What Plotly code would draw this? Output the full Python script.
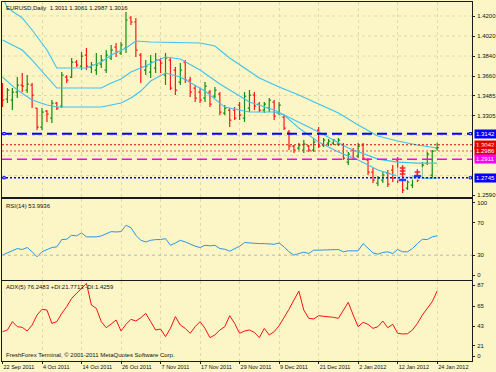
import plotly.graph_objects as go

# ---------------- data ----------------
symbol_title = "EURUSD,Daily  1.3011 1.3061 1.2987 1.3016"
rsi_title = "RSI(14) 53.9936"
adx_title = "ADX(5) 76.2483 +DI:21.7713 -DI:1.4259"
copyright_text = "FreshForex Terminal, © 2001-2011 MetaQuotes Software Corp."

date_labels = ["22 Sep 2011", "4 Oct 2011", "14 Oct 2011", "26 Oct 2011", "7 Nov 2011",
               "17 Nov 2011", "29 Nov 2011", "9 Dec 2011", "21 Dec 2011", "2 Jan 2012",
               "12 Jan 2012", "24 Jan 2012"]
date_label_bars = [0, 8, 16, 24, 32, 40, 48, 56, 64, 72, 80, 88]

bars = list(range(89))

high = [1.3597, 1.3552, 1.3552, 1.3651, 1.3687, 1.3669, 1.3597, 1.3372, 1.3372, 1.3354,
        1.3444, 1.3426, 1.3696, 1.3669, 1.3822, 1.3804, 1.3876, 1.3912, 1.3786, 1.3867,
        1.3849, 1.3894, 1.3939, 1.3957, 1.3966, 1.4236, 1.4200, 1.4182, 1.3867, 1.3804,
        1.3849, 1.3867, 1.3822, 1.3867, 1.3822, 1.3741, 1.3777, 1.3804, 1.3651, 1.3579,
        1.3552, 1.3606, 1.3534, 1.3561, 1.3516, 1.3399, 1.3372, 1.3381, 1.3426, 1.3516,
        1.3534, 1.3516, 1.3426, 1.3426, 1.3462, 1.3444, 1.3426, 1.3309, 1.3174, 1.3039,
        1.3057, 1.3084, 1.3039, 1.3102, 1.3201, 1.3102, 1.3093, 1.3093, 1.3102, 1.3057,
        1.2976, 1.3012, 1.3057, 1.3057, 1.2922, 1.2832, 1.2760, 1.2796, 1.2814, 1.2859,
        1.2931, 1.2742, 1.2724, 1.2769, 1.2796, 1.2886, 1.2976, 1.2994, 1.3061]
low = [1.3381, 1.3417, 1.3354, 1.3462, 1.3516, 1.3507, 1.3372, 1.3174, 1.3174, 1.3246,
       1.3237, 1.3354, 1.3372, 1.3597, 1.3642, 1.3741, 1.3714, 1.3714, 1.3687, 1.3669,
       1.3732, 1.3687, 1.3804, 1.3831, 1.3849, 1.3867, 1.4119, 1.3831, 1.3597, 1.3669,
       1.3642, 1.3687, 1.3687, 1.3579, 1.3534, 1.3489, 1.3579, 1.3597, 1.3471, 1.3426,
       1.3417, 1.3426, 1.3381, 1.3462, 1.3309, 1.3309, 1.3201, 1.3264, 1.3264, 1.3246,
       1.3336, 1.3354, 1.3336, 1.3327, 1.3336, 1.3264, 1.3309, 1.3174, 1.2994, 1.2967,
       1.2994, 1.2967, 1.2976, 1.2976, 1.3012, 1.3021, 1.3030, 1.3039, 1.3030, 1.2904,
       1.2859, 1.2904, 1.2922, 1.2904, 1.2769, 1.2697, 1.2670, 1.2697, 1.2661, 1.2706,
       1.2697, 1.2607, 1.2634, 1.2652, 1.2706, 1.2742, 1.2859, 1.2742, 1.2987]
open_ = [1.3552, 1.3453, 1.3444, 1.3516, 1.3579, 1.3534, 1.3579, 1.3372, 1.3201, 1.3345,
         1.3282, 1.3417, 1.3390, 1.3651, 1.3651, 1.3786, 1.3750, 1.3849, 1.3741, 1.3714,
         1.3768, 1.3714, 1.3822, 1.3921, 1.3867, 1.3912, 1.4182, 1.4146, 1.3849, 1.3714,
         1.3696, 1.3732, 1.3804, 1.3669, 1.3804, 1.3714, 1.3606, 1.3786, 1.3624, 1.3552,
         1.3516, 1.3462, 1.3516, 1.3480, 1.3498, 1.3327, 1.3354, 1.3354, 1.3399, 1.3282,
         1.3372, 1.3489, 1.3408, 1.3354, 1.3372, 1.3426, 1.3327, 1.3291, 1.3156, 1.3030,
         1.3012, 1.2994, 1.3030, 1.2994, 1.3174, 1.3039, 1.3057, 1.3057, 1.3048, 1.3039,
         1.2886, 1.2994, 1.2940, 1.3039, 1.2904, 1.2796, 1.2697, 1.2724, 1.2787, 1.2814,
         1.2904, 1.2724, 1.2652, 1.2679, 1.2778, 1.2760, 1.2877, 1.2769, 1.3011]
close = [1.3444, 1.3534, 1.3516, 1.3579, 1.3570, 1.3588, 1.3489, 1.3201, 1.3336, 1.3318,
         1.3417, 1.3372, 1.3669, 1.3624, 1.3786, 1.3759, 1.3840, 1.3750, 1.3759, 1.3759,
         1.3804, 1.3849, 1.3894, 1.3876, 1.3939, 1.4164, 1.4146, 1.3894, 1.3741, 1.3750,
         1.3786, 1.3804, 1.3777, 1.3822, 1.3552, 1.3534, 1.3714, 1.3624, 1.3516, 1.3462,
         1.3444, 1.3570, 1.3408, 1.3534, 1.3336, 1.3372, 1.3264, 1.3282, 1.3309, 1.3480,
         1.3489, 1.3390, 1.3354, 1.3408, 1.3444, 1.3300, 1.3399, 1.3192, 1.3030, 1.2994,
         1.3039, 1.3048, 1.2994, 1.3066, 1.3030, 1.3084, 1.3075, 1.3084, 1.3084, 1.2922,
         1.2958, 1.2922, 1.3030, 1.2922, 1.2796, 1.2724, 1.2742, 1.2769, 1.2688, 1.2742,
         1.2724, 1.2634, 1.2706, 1.2751, 1.2724, 1.2859, 1.2958, 1.2985, 1.3016]

band_upper_bars = [0, 1, 4, 6, 9, 11, 17, 20, 22, 25, 27, 30, 40, 43, 46, 49, 52, 56, 60,
                   64, 68, 72, 76, 80, 84, 88]
band_upper = [1.4371, 1.4272, 1.4182, 1.4074, 1.3894, 1.3732, 1.3732, 1.3786, 1.3849, 1.3912,
              1.3975, 1.3966, 1.3957, 1.3930, 1.3822, 1.3732, 1.3642, 1.3561, 1.3489,
              1.3408, 1.3327, 1.3219, 1.3120, 1.3075, 1.3039, 1.3012]
band_mid_bars = [0, 4, 6, 9, 11, 20, 22, 24, 26, 29, 31, 33, 36, 40, 44, 47, 50, 55, 59,
                 64, 70, 76, 80, 84, 88]
band_mid = [1.3984, 1.3894, 1.3804, 1.3651, 1.3552, 1.3552, 1.3597, 1.3633, 1.3696, 1.3750,
            1.3795, 1.3831, 1.3813, 1.3714, 1.3588, 1.3507, 1.3426, 1.3354, 1.3264,
            1.3156, 1.3012, 1.2913, 1.2886, 1.2877, 1.2877]
band_low_bars = [0, 3, 6, 9, 11, 20, 22, 24, 26, 28, 30, 33, 36, 41, 45, 50, 55, 57, 60,
                 64, 68, 72, 76, 80, 84, 88]
band_low = [1.3651, 1.3534, 1.3444, 1.3399, 1.3381, 1.3381, 1.3399, 1.3417, 1.3462, 1.3525,
            1.3615, 1.3687, 1.3651, 1.3525, 1.3381, 1.3336, 1.3336, 1.3309, 1.3192,
            1.3066, 1.2976, 1.2904, 1.2814, 1.2760, 1.2742, 1.2742]

levels = [1.3142, 1.3042, 1.2986, 1.2911, 1.2745]
level_labels = ["1.3142", "1.3042", "1.2986", "1.2911", "1.2745"]

# small trade-signal objects drawn on the chart (bar index, price)
signal_box_bars = [81, 84]
signal_box_prices = [1.2778, 1.2782]
signal_red_bars = [81, 81, 81, 84]
signal_red_prices = [1.2832, 1.2805, 1.2778, 1.2796]
signal_blue_bars = [81, 84]
signal_blue_prices = [1.2725, 1.2760]

price_ticks = [1.4200, 1.4020, 1.3840, 1.3660, 1.3485, 1.3305, 1.2590]
price_tick_labels = ["1.4200", "1.4020", "1.3840", "1.3660", "1.3485", "1.3305", "1.2590"]
price_grid = [1.4200, 1.4020, 1.3840, 1.3660, 1.3485, 1.3305, 1.3125, 1.2945, 1.2765]

rsi = [30.1, 32.9, 36.2, 38.2, 37.0, 39.5, 34.2, 28.0, 34.2, 37.0,
       39.5, 40.3, 49.3, 49.7, 54.6, 53.8, 57.5, 52.6, 52.6, 52.6,
       53.8, 56.6, 59.1, 58.7, 59.1, 66.9, 64.0, 54.6, 48.4, 46.4,
       48.4, 49.3, 49.3, 50.5, 42.3, 45.1, 48.4, 46.4, 43.5, 41.1,
       39.5, 42.3, 41.5, 42.3, 38.2, 37.4, 34.9, 38.2, 41.1, 45.6,
       45.1, 44.3, 44.3, 44.3, 44.3, 43.5, 45.1, 40.3, 34.2, 30.1,
       32.1, 33.7, 32.1, 36.2, 36.2, 36.2, 36.2, 37.0, 37.0, 34.2,
       35.4, 35.4, 35.4, 44.3, 38.2, 32.9, 31.3, 33.3, 34.2, 32.1,
       37.0, 34.2, 34.2, 38.2, 44.3, 49.7, 49.3, 52.6, 53.99]
rsi_ticks = ["100", "70", "30", "0"]

adx = [31.9, 33.7, 42.8, 37.3, 36.6, 32.6, 39.1, 50.0, 56.2, 55.4,
       40.9, 42.8, 51.8, 59.1, 68.1, 73.6, 79.0, 84.4, 60.9, 57.2,
       42.8, 36.2, 40.2, 44.6, 32.6, 39.9, 45.3, 43.5, 47.1, 51.8,
       42.8, 33.7, 34.8, 26.5, 35.5, 48.2, 39.1, 35.5, 30.1, 37.3,
       42.8, 35.5, 25.4, 28.3, 33.7, 37.3, 49.3, 40.9, 30.1, 32.6,
       33.7, 31.1, 25.4, 35.5, 28.3, 31.9, 38.4, 47.1, 56.2, 66.3,
       76.1, 55.4, 46.4, 45.7, 49.3, 48.6, 48.2, 47.5, 46.4, 55.4,
       63.8, 50.0, 37.3, 42.1, 39.9, 35.5, 37.3, 43.5, 36.2, 39.9,
       30.1, 29.4, 29.7, 33.7, 40.9, 50.0, 57.2, 64.5, 76.25]
adx_ticks = ["87", "65", "43", "21", "0"]

# ---------------- style ----------------
BG = "#fcf5c6"
GRID = "#e2d9a8"
FONT = "Liberation Sans"
FS = 6
W, H = 496, 372
ML, MR, MT_, MB = 2, 24, 2, 11
PW = W - ML - MR
PH = H - MT_ - MB


def py(ypix):
    return (H - MB - ypix) / PH


def px(xpix):
    return (xpix - ML) / PW


fig = go.Figure()

fig.add_trace(go.Ohlc(x=bars, open=open_, high=high, low=low, close=close,
                      increasing=dict(line=dict(color="#13900f", width=1.2)),
                      decreasing=dict(line=dict(color="#ff1a1a", width=1.2)),
                      tickwidth=0.35, xaxis="x", yaxis="y", showlegend=False,
                      hoverinfo="skip"))

for bx, by in [(band_upper_bars, band_upper), (band_mid_bars, band_mid), (band_low_bars, band_low)]:
    fig.add_trace(go.Scatter(x=bx, y=by, mode="lines", line=dict(color="#3cc3f2", width=1.1),
                             xaxis="x", yaxis="y", showlegend=False, hoverinfo="skip"))

# signal objects
fig.add_trace(go.Scatter(x=signal_box_bars, y=signal_box_prices, mode="markers",
                         marker=dict(symbol="square", size=13, color="rgba(255,255,255,0.55)",
                                     line=dict(width=0)),
                         xaxis="x", yaxis="y", showlegend=False, hoverinfo="skip"))
fig.add_trace(go.Scatter(x=signal_red_bars, y=signal_red_prices, mode="markers",
                         marker=dict(symbol="cross-thin", size=4, line=dict(color="#ff2020", width=1.5)),
                         xaxis="x", yaxis="y", showlegend=False, hoverinfo="skip"))
fig.add_trace(go.Scatter(x=signal_blue_bars, y=signal_blue_prices, mode="markers",
                         marker=dict(symbol="line-ew", size=5, line=dict(color="#2040ff", width=2.5)),
                         xaxis="x", yaxis="y", showlegend=False, hoverinfo="skip"))

fig.add_trace(go.Scatter(x=bars, y=rsi, mode="lines", line=dict(color="#2b95e8", width=1),
                         xaxis="x2", yaxis="y2", showlegend=False, hoverinfo="skip"))
fig.add_trace(go.Scatter(x=bars, y=adx, mode="lines", line=dict(color="#ff1010", width=1),
                         xaxis="x3", yaxis="y3", showlegend=False, hoverinfo="skip"))

xr = [-0.1, 95.05]
xcommon = dict(range=xr, showgrid=True, gridcolor=GRID, griddash="dot", gridwidth=1,
               tickvals=date_label_bars, zeroline=False, showline=True, mirror=True,
               linecolor="#1a1a1a", linewidth=1, fixedrange=True, automargin=False)

d_main = [py(197), 1]
d_rsi = [py(279.5), py(198.5)]
d_adx = [0, py(281)]

ycommon = dict(side="right", zeroline=False, ticks="outside", ticklen=2, tickcolor="#222",
               ticklabelstandoff=1, showline=True, mirror=True, showgrid=False,
               linecolor="#1a1a1a", linewidth=1, tickfont=dict(family=FONT, size=FS, color="#111"),
               fixedrange=True, automargin=False)

fig.update_layout(
    template="none",
    width=W, height=H, margin=dict(l=ML, r=MR, t=MT_, b=MB, autoexpand=False),
    paper_bgcolor=BG, plot_bgcolor=BG, showlegend=False,
    xaxis=dict(domain=[0, 1], anchor="y", showticklabels=False, rangeslider=dict(visible=False),
               ticks="", **xcommon),
    xaxis2=dict(domain=[0, 1], anchor="y2", showticklabels=False, matches="x", ticks="", **xcommon),
    xaxis3=dict(domain=[0, 1], anchor="y3", showticklabels=True, matches="x",
                ticktext=date_labels, ticks="outside", ticklen=2, tickcolor="#222",
                ticklabelposition="outside right", tickangle=0, ticklabelstandoff=0,
                tickfont=dict(family=FONT, size=5.5, color="#111"), **xcommon),
    yaxis=dict(domain=d_main, anchor="x", range=[1.2572, 1.4326], tickvals=price_ticks,
               ticktext=price_tick_labels, **ycommon),
    yaxis2=dict(domain=d_rsi, anchor="x2", range=[0, 100], tickvals=[95.1, 70, 30, 5.5],
                ticktext=rsi_ticks, **ycommon),
    yaxis3=dict(domain=d_adx, anchor="x3", range=[0, 87], tickvals=[82.6, 59.5, 38, 16.6, 5.4],
                ticktext=adx_ticks, **ycommon),
)

# price grid (dotted)
for g in price_grid:
    fig.add_shape(type="line", xref="x domain", yref="y", x0=0, x1=1, y0=g, y1=g, layer="below",
                  line=dict(color=GRID, width=1, dash="dot"))

# RSI 30 level
fig.add_shape(type="line", xref="x2 domain", yref="y2", x0=0, x1=1, y0=30, y1=30,
              line=dict(color="#b8b8b8", width=1, dash="dot"))

# horizontal level lines
level_styles = [
    dict(color="#0000ff", width=2, dash="10px,5px"),
    dict(color="#e00000", width=1, dash="2px,2px"),
    dict(color="#f05050", width=1, dash="2px,2px"),
    dict(color="#ff00ff", width=1.5, dash="10px,5px"),
    dict(color="#0000ff", width=1.5, dash="2px,2px"),
]
label_bg = ["#0000ff", "#e00000", "#e00000", "#ff00ff", "#0000ff"]
for lv, st, lab, bg in zip(levels, level_styles, level_labels, label_bg):
    fig.add_shape(type="line", xref="x domain", yref="y", x0=0, x1=1, y0=lv, y1=lv, line=st)
    fig.add_annotation(x=px(474), xref="paper", xanchor="left", y=lv, yref="y",
                       text=lab, showarrow=False, bgcolor=bg, borderpad=1,
                       font=dict(family=FONT, size=FS, color="white"))

# small anchor squares at the ends of the blue level lines
for lv in (levels[0], levels[4]):
    for xe in (0.002, 0.994):
        fig.add_shape(type="rect", xref="x domain", yref="y", x0=xe, x1=xe + 0.005,
                      y0=lv - 0.0010, y1=lv + 0.0010, line=dict(color="#0000ff", width=1),
                      fillcolor=BG)

# titles
for txt, yy in [(symbol_title, 8), (rsi_title, 206), (adx_title, 287), (copyright_text, 355)]:
    fig.add_annotation(x=px(4), y=py(yy), xref="paper", yref="paper", xanchor="left",
                       yanchor="middle", text=txt, showarrow=False,
                       font=dict(family=FONT, size=FS, color="#111"))

fig.write_html("out.html", config={"displayModeBar": False, "staticPlot": True},
               post_script="document.body.style.margin='0';document.body.style.overflow='hidden';")
